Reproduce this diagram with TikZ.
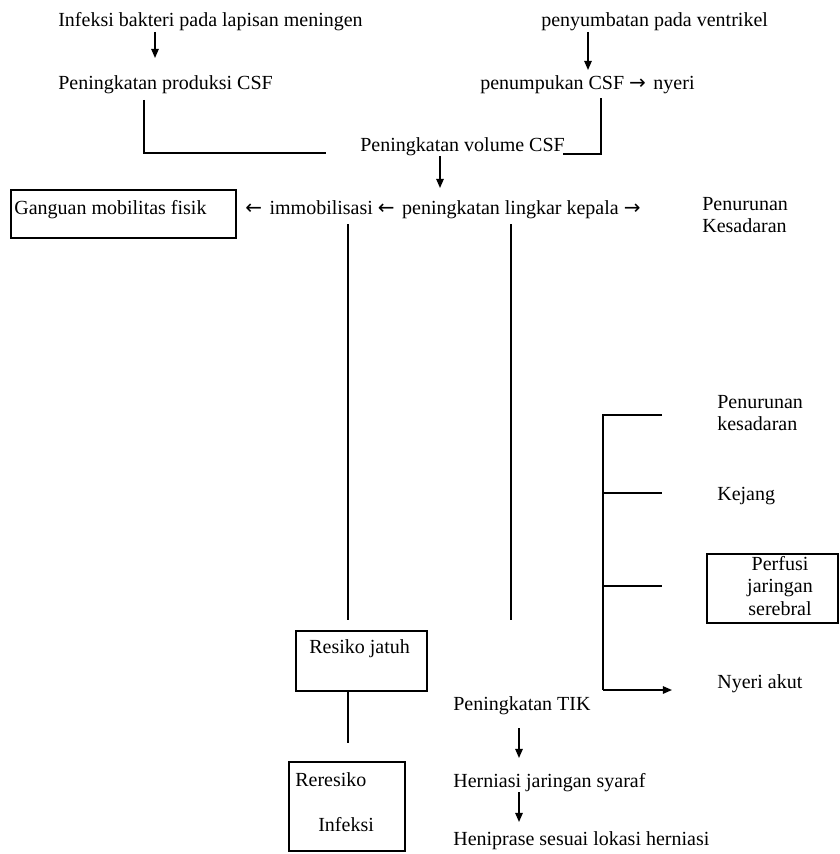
\documentclass[tikz,border=0pt]{standalone}
\usepackage{fontspec}
\setmainfont{Liberation Serif}
\newfontfamily\arrf{DejaVu Sans}
\newcommand{\la}{{\arrf\fontsize{12pt}{14pt}\selectfont ←}\hspace{1.5pt}}
\newcommand{\ra}{{\arrf\fontsize{12pt}{14pt}\selectfont →}\hspace{1.5pt}}
\usetikzlibrary{arrows.meta}
\begin{document}
\begin{tikzpicture}[x=0.6pt,y=-0.6pt,
  lbl/.style={anchor=base west,inner sep=0pt,font=\fontsize{12pt}{14pt}\selectfont},
  ln/.style={line width=0.9pt},
  arr/.style={line width=0.9pt,-{Triangle[length=5.5pt,width=4.5pt]}},
  bx/.style={draw,line width=0.9pt}]
\useasboundingbox (0,0) rectangle (840,854);
% texts
\node[lbl] (n1) at (58,27) {Infeksi bakteri pada lapisan meningen};
\node[lbl] (n2) at (58,90) {Peningkatan produksi CSF};
\node[lbl] (n3) at (541,27) {penyumbatan pada ventrikel};
\node[lbl] (n4) at (480,90) {penumpukan CSF \ra{}\hspace{3pt}nyeri};
\node[lbl] (n5) at (360,152) {Peningkatan volume CSF};
\node[lbl] (n6) at (14,214) {Ganguan mobilitas fisik};
\node[lbl] (n7) at (245,214) {\la{} immobilisasi \la{} peningkatan lingkar kepala \ra};
\node[lbl] (n8a) at (702,210) {Penurunan};
\node[lbl] (n8b) at (702,232) {Kesadaran};
\node[lbl] (n9a) at (717,408) {Penurunan};
\node[lbl] (n9b) at (717,430) {kesadaran};
\node[lbl] (n10) at (717,500) {Kejang};
\node[lbl,anchor=base] (n11a) at (780,570) {Perfusi};
\node[lbl,anchor=base] (n11b) at (780,592) {jaringan};
\node[lbl,anchor=base] (n11c) at (780,615) {serebral};
\node[lbl] (n12) at (717,688) {Nyeri akut};
\node[lbl] (n13) at (309,653) {Resiko jatuh};
\node[lbl] (n14a) at (295,786) {Reresiko};
\node[lbl] (n14b) at (318,831) {Infeksi};
\node[lbl] (n15) at (453,710) {Peningkatan TIK};
\node[lbl] (n16) at (453,787) {Herniasi jaringan syaraf};
\node[lbl] (n17) at (453,845) {Heniprase sesuai lokasi herniasi};
% boxes
\draw[bx] (11,190) rectangle (236,238);
\draw[bx] (707,554) rectangle (838,623);
\draw[bx] (296,631) rectangle (427,691);
\draw[bx] (289,762) rectangle (405,851);
% connector end points
\coordinate (a1s) at (155,32); \coordinate (a1e) at (155,58);
\coordinate (a2s) at (588,32); \coordinate (a2e) at (588,70);
\coordinate (a3s) at (440,156); \coordinate (a3e) at (440,188);
\coordinate (l1s) at (144,100); \coordinate (l1c) at (144,153); \coordinate (l1e) at (326,153);
\coordinate (l2s) at (563,154); \coordinate (l2c) at (601,154); \coordinate (l2e) at (601,98);
\coordinate (v1s) at (348,224); \coordinate (v1e) at (348,620);
\coordinate (v2s) at (511,224); \coordinate (v2e) at (511,620);
\coordinate (v3s) at (348,692); \coordinate (v3e) at (348,743);
\coordinate (a4s) at (519,728); \coordinate (a4e) at (519,758);
\coordinate (a5s) at (519,792); \coordinate (a5e) at (519,822);
\coordinate (bt) at (603,415); \coordinate (bb) at (603,690);
\coordinate (b1) at (662,415); \coordinate (b2) at (662,493);
\coordinate (b3) at (662,586); \coordinate (b4) at (672,690);
% connectors
\draw[arr] (a1s) -- (a1e);
\draw[arr] (a2s) -- (a2e);
\draw[arr] (a3s) -- (a3e);
\draw[ln] (l1s) -- (l1c) -- (l1e);
\draw[ln] (l2s) -- (l2c) -- (l2e);
\draw[ln] (v1s) -- (v1e);
\draw[ln] (v2s) -- (v2e);
\draw[ln] (v3s) -- (v3e);
\draw[arr] (a4s) -- (a4e);
\draw[arr] (a5s) -- (a5e);
\draw[ln] (b1) -- (bt) -- (bb);
\draw[arr] (bb) -- (b4);
\draw[ln] (bt |- b2) -- (b2);
\draw[ln] (bt |- b3) -- (b3);
\end{tikzpicture}
\end{document}
